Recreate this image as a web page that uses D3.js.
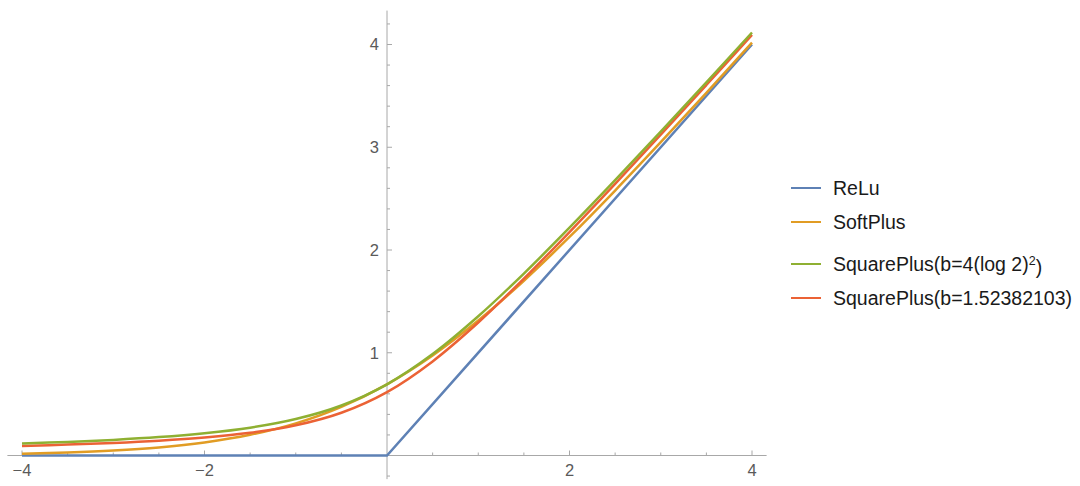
<!DOCTYPE html>
<html>
<head>
<meta charset="utf-8">
<script src="https://cdn.jsdelivr.net/npm/d3@7"></script>
<style>
  body { margin: 0; background: #fff; }
  svg text { font-family: "Liberation Sans", Arial, sans-serif; }
  .tick-label { fill: #5a5a5a; font-size: 16.5px; }
  .legend-label { fill: #1a1a1a; font-size: 19.5px; }
</style>
</head>
<body>
<div id="chart"></div>
<script>
// sample points
var xs = [-4, -3.5, -3, -2.5, -2, -1.5, -1, -0.5, 0, 0.5, 1, 1.5, 2, 2.5, 3, 3.5, 4];
var relu_x = [-4, 0, 4];
var relu_y = [0, 0, 4];
var softplus_y = [0.018, 0.030, 0.049, 0.079, 0.127, 0.201, 0.313, 0.474, 0.693, 0.974, 1.313, 1.701, 2.127, 2.579, 3.049, 3.530, 4.018];
var sqplus_log_y = [0.117, 0.132, 0.152, 0.179, 0.217, 0.271, 0.355, 0.487, 0.693, 0.987, 1.355, 1.771, 2.217, 2.679, 3.152, 3.632, 4.117];
var sqplus_b_y = [0.093, 0.106, 0.122, 0.144, 0.175, 0.221, 0.294, 0.416, 0.617, 0.916, 1.294, 1.721, 2.175, 2.644, 3.122, 3.606, 4.093];

var series_names = ["ReLu", "SoftPlus", "SquarePlus(b=4(log 2)", "SquarePlus(b=1.52382103)"];
var series_colors = ["#5e81b5", "#e19c24", "#8fb032", "#eb6235"];

var x_ticks = [-4, -2, 2, 4];
var y_ticks = [1, 2, 3, 4];

var width = 1080, height = 486;

var svg = d3.select("#chart").append("svg")
    .attr("width", width)
    .attr("height", height);

var x = d3.scaleLinear().domain([-4, 4]).range([22, 752]);
var y = d3.scaleLinear().domain([0, 4]).range([455.5, 44.5]);

var axis_color = "#a8a8a8";

// x axis
svg.append("line")
    .attr("x1", x(-4.16)).attr("x2", x(4.16))
    .attr("y1", y(0)).attr("y2", y(0))
    .attr("stroke", axis_color).attr("stroke-width", 1);

svg.selectAll(".xminor")
    .data(d3.range(-4, 4.01, 0.5).filter(function(d){ return d != 0; }))
  .enter().append("line")
    .attr("class", "xminor")
    .attr("x1", function(d){ return x(d); })
    .attr("x2", function(d){ return x(d); })
    .attr("y1", y(0))
    .attr("y2", function(d){ return y(0) - (x_ticks.indexOf(d) >= 0 ? 5 : 3); })
    .attr("stroke", axis_color);

svg.selectAll(".xlabel")
    .data(x_ticks)
  .enter().append("text")
    .attr("class", "tick-label")
    .attr("x", function(d){ return x(d); })
    .attr("y", y(0) + 20)
    .attr("text-anchor", "middle")
    .text(function(d){ return d < 0 ? "\u2212" + Math.abs(d) : d; });

// y axis
svg.append("line")
    .attr("x1", x(0)).attr("x2", x(0))
    .attr("y1", y(-0.23)).attr("y2", y(4.33))
    .attr("stroke", axis_color).attr("stroke-width", 1);

svg.selectAll(".yminor")
    .data(d3.range(-0.2, 4.21, 0.2).map(function(d){ return Math.round(d * 10) / 10; }).filter(function(d){ return d != 0; }))
  .enter().append("line")
    .attr("class", "yminor")
    .attr("x1", x(0))
    .attr("x2", function(d){ return x(0) + (y_ticks.indexOf(d) >= 0 ? 5 : 3); })
    .attr("y1", function(d){ return y(d); })
    .attr("y2", function(d){ return y(d); })
    .attr("stroke", axis_color);

svg.selectAll(".ylabel")
    .data(y_ticks)
  .enter().append("text")
    .attr("class", "tick-label")
    .attr("x", x(0) - 8)
    .attr("y", function(d){ return y(d); })
    .attr("dy", ".35em")
    .attr("text-anchor", "end")
    .text(function(d){ return d; });

// the curves
var line = d3.line()
    .x(function(d){ return x(d[0]); })
    .y(function(d){ return y(d[1]); })
    .curve(d3.curveCatmullRom.alpha(0.5));

var relu_line = d3.line()
    .x(function(d){ return x(d[0]); })
    .y(function(d){ return y(d[1]); });

function pairs(ys){
  return xs.map(function(v, i){ return [v, ys[i]]; });
}

svg.append("path")
    .attr("d", relu_line(relu_x.map(function(v, i){ return [v, relu_y[i]]; })))
    .attr("fill", "none").attr("stroke", series_colors[0]).attr("stroke-width", 2.5);

svg.append("path")
    .attr("d", line(pairs(softplus_y)))
    .attr("fill", "none").attr("stroke", series_colors[1]).attr("stroke-width", 2.5);

svg.append("path")
    .attr("d", line(pairs(sqplus_b_y)))
    .attr("fill", "none").attr("stroke", series_colors[3]).attr("stroke-width", 2.5);

svg.append("path")
    .attr("d", line(pairs(sqplus_log_y)))
    .attr("fill", "none").attr("stroke", series_colors[2]).attr("stroke-width", 2.5);

// the legend
var legend_y = [188, 222, 264, 298];

var legend = svg.selectAll(".legend")
    .data(series_names)
  .enter().append("g")
    .attr("class", "legend")
    .attr("transform", function(d, i){ return "translate(791," + legend_y[i] + ")"; });

legend.append("line")
    .attr("x1", 0).attr("x2", 30)
    .attr("y1", 0).attr("y2", 0)
    .attr("stroke", function(d, i){ return series_colors[i]; })
    .attr("stroke-width", 2);

var labels = legend.append("text")
    .attr("class", "legend-label")
    .attr("x", 42)
    .attr("dy", ".35em")
    .text(function(d){ return d; });

// superscript on the third label
var lbl3 = d3.select(labels.nodes()[2]);
lbl3.append("tspan")
    .attr("dy", "-0.45em")
    .style("font-size", "12.5px")
    .text("2");
lbl3.append("tspan")
    .attr("dy", "0.45em")
    .text(")");
</script>
</body>
</html>
